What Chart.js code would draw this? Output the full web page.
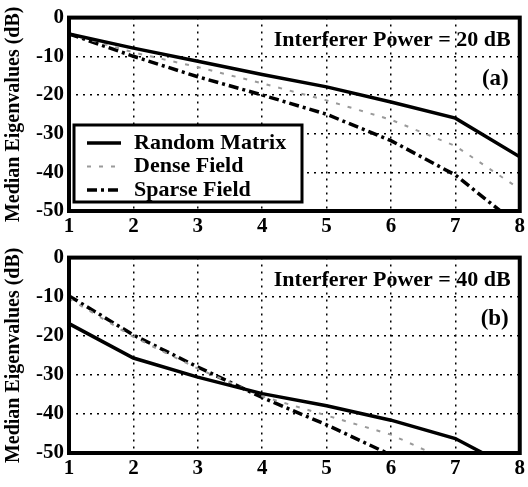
<!DOCTYPE html>
<html>
<head>
<meta charset="utf-8">
<script src="https://cdn.jsdelivr.net/npm/chart.js@4.4.1/dist/chart.umd.min.js"></script>
<style>
  html, body { margin: 0; padding: 0; background: #fff; }
  #wrap { position: relative; width: 528px; height: 487px; }
  canvas { position: absolute; left: 0; }
</style>
</head>
<body>
<div id="wrap">
  <canvas id="chartA" width="528" height="240" style="top:0px"></canvas>
  <canvas id="chartB" width="528" height="247" style="top:240px"></canvas>
</div>
<script>
// eigenvalue index (x axis)
var eigIndex = [1, 2, 3, 4, 5, 6, 7, 8];

// (a) interferer power 20 dB
var randomA = [-4.2, -7.9, -11.3, -14.7, -17.9, -21.8, -26.0, -36.0];
var denseA  = [-4.2, -9.0, -12.8, -17.0, -21.4, -26.4, -33.2, -44.3];
var sparseA = [-4.2, -10.0, -15.3, -20.0, -25.0, -31.8, -40.7, -54.0];

// (b) interferer power 40 dB
var randomB = [-16.9, -25.7, -30.6, -34.8, -37.9, -41.6, -46.3, -55.0];
var denseB  = [-10.5, -20.3, -28.4, -35.5, -40.4, -45.3, -52.8, -60.0];
var sparseB = [-9.8, -19.8, -28.0, -35.8, -42.8, -50.5, -58.0, -66.0];

var seriesNames = ['Random Matrix', 'Dense Field', 'Sparse Field'];
var yMin = -50, yMax = 0, yStep = 10;

var serif = '"Liberation Serif", "Times New Roman", serif';

function pts(vals) {
    return eigIndex.map(function(x, i) { return { x: x, y: vals[i] }; });
}

var notesPlugin = {
    id: 'notes',
    afterDatasetsDraw: function(chart) {
        var ctx = chart.ctx;
        var a = chart.chartArea;
        var o = chart.options.plugins.notes;
        ctx.save();
        // heavy frame round the plot
        ctx.strokeStyle = '#000';
        ctx.lineWidth = 4;
        ctx.strokeRect(a.left, a.top, a.right - a.left, a.bottom - a.top);

        ctx.fillStyle = '#000';
        ctx.font = 'bold 22px ' + serif;
        ctx.textAlign = 'right';
        ctx.textBaseline = 'middle';
        ctx.fillText(o.title, a.right - 9, a.top + 23);
        ctx.font = 'bold 23px ' + serif;
        ctx.fillText(o.tag, a.right - 11, a.top + 61);

        if (o.legend) {
            var lx = a.left + 5, ly = 125, lw = 228, lh = 77;
            ctx.fillStyle = '#fff';
            ctx.fillRect(lx, ly, lw, lh);
            ctx.lineWidth = 3;
            ctx.strokeRect(lx, ly, lw, lh);
            chart.data.datasets.forEach(function(ds, i) {
                var yy = ly + 18 + i * 23.5;
                ctx.save();
                ctx.strokeStyle = ds.borderColor;
                ctx.lineWidth = ds.borderWidth;
                ctx.setLineDash(ds.borderDash || []);
                ctx.beginPath();
                ctx.moveTo(lx + 13, yy);
                ctx.lineTo(lx + 47, yy);
                ctx.stroke();
                ctx.restore();
                ctx.fillStyle = '#000';
                ctx.font = 'bold 22px ' + serif;
                ctx.textAlign = 'left';
                ctx.fillText(ds.label, lx + 60, yy);
            });
        }
        ctx.restore();
    }
};

function makeChart(id, random, dense, sparse, title, tag, legend, axisH) {
    var tickFont = { family: serif, size: 21, weight: 'bold' };
    return new Chart(document.getElementById(id).getContext('2d'), {
        type: 'line',
        data: {
            datasets: [{
                label: seriesNames[0],
                data: pts(random),
                borderColor: '#000',
                borderWidth: 3.5,
                pointRadius: 0
            }, {
                label: seriesNames[1],
                data: pts(dense),
                borderColor: '#9a9a9a',
                borderWidth: 2,
                borderDash: [4, 8],
                pointRadius: 0
            }, {
                label: seriesNames[2],
                data: pts(sparse),
                borderColor: '#000',
                borderWidth: 3.5,
                borderDash: [10, 4, 3, 4],
                pointRadius: 0
            }]
        },
        options: {
            responsive: false,
            animation: false,
            layout: { padding: { top: 7, right: 6, left: 0, bottom: 0 } },
            plugins: {
                legend: { display: false },
                tooltip: { enabled: false },
                notes: { title: title, tag: tag, legend: legend }
            },
            scales: {
                x: {
                    type: 'linear',
                    min: eigIndex[0],
                    max: eigIndex[eigIndex.length - 1],
                    ticks: { stepSize: 1, color: '#000', font: tickFont, padding: 3, maxRotation: 0 },
                    grid: { color: '#000', lineWidth: 1.5, drawTicks: false },
                    border: { display: false, dash: [2, 5] },
                    afterFit: function(s) { s.height = axisH; }
                },
                y: {
                    min: yMin,
                    max: yMax,
                    ticks: { stepSize: yStep, color: '#000', font: tickFont, padding: 5 },
                    grid: { color: '#000', lineWidth: 1.5, drawTicks: false },
                    border: { display: false, dash: [2, 5] },
                    title: {
                        display: true,
                        text: 'Median Eigenvalues (dB)',
                        color: '#000',
                        font: { family: serif, size: 20, weight: 'bold' },
                        padding: { top: 2, bottom: 0 }
                    },
                    afterFit: function(s) { s.width = 69; }
                }
            }
        },
        plugins: [notesPlugin]
    });
}

makeChart('chartA', randomA, denseA, sparseA, 'Interferer Power = 20 dB', '(a)', true, 29);
makeChart('chartB', randomB, denseB, sparseB, 'Interferer Power = 40 dB', '(b)', false, 34);
</script>
</body>
</html>
